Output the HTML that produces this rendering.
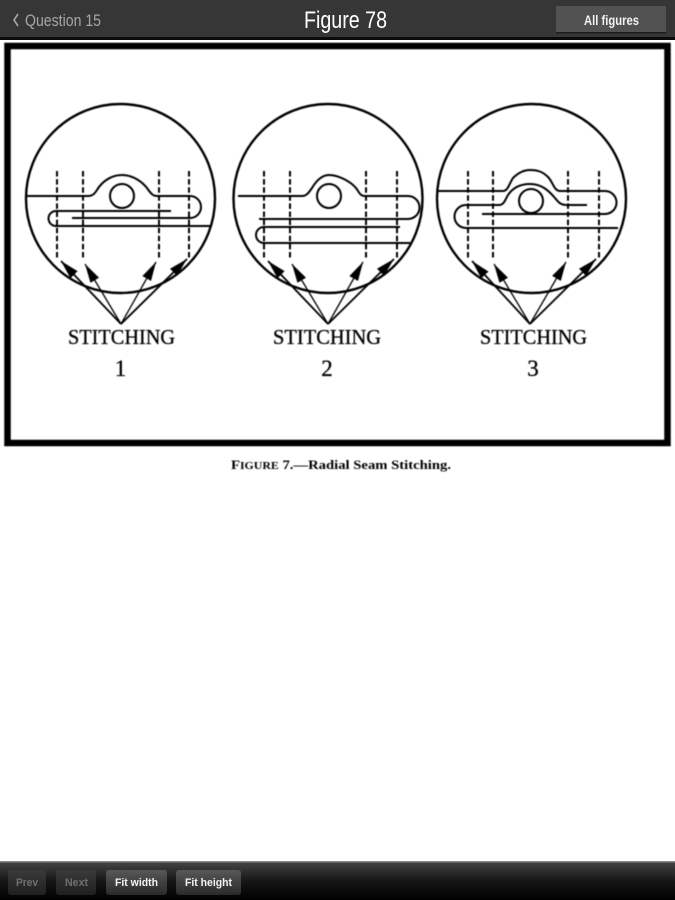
<!DOCTYPE html>
<html>
<head>
<meta charset="utf-8">
<style>
html,body{margin:0;padding:0;background:#fff;width:675px;height:900px;overflow:hidden}
svg{display:block}
.d{filter:url(#b)}
.l{fill:none;stroke:#000;stroke-width:2}
.c{fill:none;stroke:#000;stroke-width:2.4}
.dash{stroke:#000;stroke-width:2;stroke-dasharray:5.5 2.6;fill:none}
.a{stroke:#000;stroke-width:1.3;marker-end:url(#ah)}
.o{stroke:#000;stroke-width:1.8;marker-end:url(#ah)}
.t{font-family:"Liberation Serif",serif;fill:#000;stroke:#000;stroke-width:.3}
.s{font-family:"Liberation Sans",sans-serif}
</style>
</head>
<body>
<svg width="675" height="900" viewBox="0 0 675 900" xmlns="http://www.w3.org/2000/svg">
<defs>
<filter id="b" x="-5%" y="-5%" width="110%" height="110%"><feGaussianBlur stdDeviation="0.45"/></filter>
<filter id="b2" x="-5%" y="-20%" width="110%" height="140%"><feGaussianBlur stdDeviation="0.35"/></filter>
<marker id="ah" markerUnits="userSpaceOnUse" markerWidth="20" markerHeight="12" refX="19" refY="5.5" orient="auto">
<path d="M0 0.5 L19 5.5 L0 10.5 Z" fill="#000"/>
</marker>
<linearGradient id="bar" x1="0" y1="0" x2="0" y2="1"><stop offset="0" stop-color="#444"/><stop offset=".5" stop-color="#161616"/><stop offset="1" stop-color="#000"/></linearGradient>
<linearGradient id="btn" x1="0" y1="0" x2="0" y2="1"><stop offset="0" stop-color="#585858"/><stop offset="1" stop-color="#2a2a2a"/></linearGradient>
<linearGradient id="btnd" x1="0" y1="0" x2="0" y2="1"><stop offset="0" stop-color="#3a3a3a"/><stop offset="1" stop-color="#202020"/></linearGradient>
</defs>

<!-- Top bar -->
<rect x="0" y="0" width="675" height="38" fill="#363636"/>
<rect x="0" y="37" width="675" height="3" fill="#0a0a0a"/>
<path d="M18 14 L14 20 L18 26" fill="none" stroke="#a8a8a8" stroke-width="1.6"/>
<text class="s" x="25" y="26" font-size="17" fill="#a6a6a6" textLength="76" lengthAdjust="spacingAndGlyphs">Question 15</text>
<text class="s" x="304" y="28" font-size="24" fill="#fff" textLength="83" lengthAdjust="spacingAndGlyphs">Figure 78</text>
<rect x="556" y="6" width="110" height="26.5" rx="1" fill="#525252"/>
<rect x="556" y="32" width="110" height="1.5" fill="#1c1c1c"/>
<text class="s" x="584" y="25" font-size="14" font-weight="bold" fill="#f2f2f2" textLength="55" lengthAdjust="spacingAndGlyphs">All figures</text>

<g class="d">
<!-- Frame -->
<rect x="7.5" y="46" width="660" height="397" fill="none" stroke="#000" stroke-width="6.5"/>

<!-- Figure 1 -->
<circle class="c" cx="120.5" cy="198.5" r="94.5"/>
<path class="l" d="M26 196 H88 C93 196 95 193 97 190 C101 183 110 175 122 175 C134 175 143 183 147 188 C150 192 152 196 157 196 H190 A11 11 0 0 1 190 218 H72"/>
<path class="l" d="M171 211 H56 A7.5 7.5 0 0 0 56 226 H210"/>
<circle class="l" cx="122" cy="196" r="12"/>
<path class="dash" d="M57 171 V258 M83 171 V258 M159 171 V258 M189 171 V258"/>
<line class="o" x1="121" y1="324" x2="61" y2="261"/>
<line class="a" x1="121" y1="324" x2="85" y2="264"/>
<line class="a" x1="121" y1="324" x2="156" y2="262"/>
<line class="o" x1="121" y1="324" x2="187" y2="259"/>
<text class="t" x="68" y="344" font-size="21" textLength="107" lengthAdjust="spacingAndGlyphs">STITCHING</text>
<text class="t" x="120.5" y="376" font-size="23" text-anchor="middle">1</text>

<!-- Figure 2 -->
<circle class="c" cx="328" cy="198.5" r="94.5"/>
<path class="l" d="M238 196 H302 C307 196 309 192 312 188 C316 181 322 175 329 175 C338 175 350 181 356 188 C359 192 360 196 365 196 H408 A11.5 11.5 0 0 1 408 219 H259"/>
<path class="l" d="M400 227 H264 A8 8 0 0 0 264 243 H410"/>
<circle class="l" cx="329" cy="196" r="12"/>
<path class="dash" d="M264 171 V258 M290 171 V258 M366 171 V258 M397 171 V258"/>
<line class="o" x1="328" y1="324" x2="268" y2="261"/>
<line class="a" x1="328" y1="324" x2="292" y2="264"/>
<line class="a" x1="328" y1="324" x2="363" y2="262"/>
<line class="o" x1="328" y1="324" x2="394" y2="259"/>
<text class="t" x="273" y="344" font-size="21" textLength="108" lengthAdjust="spacingAndGlyphs">STITCHING</text>
<text class="t" x="327" y="376" font-size="23" text-anchor="middle">2</text>

<!-- Figure 3 -->
<circle class="c" cx="531.5" cy="198.5" r="94.5"/>
<path class="l" d="M438 191 H503 C508 191 509 184 513 178 C518 173 523 170 530 170 C538 170 543 172 548 177 C553 182 554 191 560 191 H605 A11.5 11.5 0 0 1 605 214 H482"/>
<path class="l" d="M587 205 H567 C561 205 559 203 555 198 C549 191 542 184 530 184 C519 184 512 189 508 195 C505 200 504 205 499 205 H466 A11.5 11.5 0 0 0 466 228 H618"/>
<circle class="l" cx="531" cy="201" r="12"/>
<path class="dash" d="M468 171 V258 M493 171 V258 M568 171 V258 M599 171 V258"/>
<line class="o" x1="530" y1="324" x2="472" y2="261"/>
<line class="a" x1="530" y1="324" x2="494" y2="264"/>
<line class="a" x1="530" y1="324" x2="566" y2="262"/>
<line class="o" x1="530" y1="324" x2="596" y2="259"/>
<text class="t" x="480" y="344" font-size="21" textLength="107" lengthAdjust="spacingAndGlyphs">STITCHING</text>
<text class="t" x="533" y="376" font-size="23" text-anchor="middle">3</text>

<!-- Caption -->
<text class="t" style="stroke:none" x="231" y="469" font-size="13" font-weight="bold" textLength="220" lengthAdjust="spacingAndGlyphs">F<tspan font-size="10.5">IGURE</tspan> 7.—Radial Seam Stitching.</text>
</g>

<!-- Bottom bar -->
<rect x="0" y="862" width="675" height="38" fill="url(#bar)"/>
<rect x="0" y="861" width="675" height="1.5" fill="#8a8a8a"/>
<g filter="url(#b2)">
<rect x="8" y="870" width="38" height="25" rx="3" fill="url(#btnd)"/>
<rect x="56" y="870" width="40" height="25" rx="3" fill="url(#btnd)"/>
<rect x="106" y="870" width="61" height="25" rx="3" fill="url(#btn)"/>
<rect x="176" y="870" width="65" height="25" rx="3" fill="url(#btn)"/>
<text class="s" x="16" y="886" font-size="11" font-weight="bold" fill="#707070" textLength="22" lengthAdjust="spacingAndGlyphs">Prev</text>
<text class="s" x="65" y="886" font-size="11" font-weight="bold" fill="#707070" textLength="23" lengthAdjust="spacingAndGlyphs">Next</text>
<text class="s" x="115" y="886" font-size="11" font-weight="bold" fill="#f2f2f2" textLength="43" lengthAdjust="spacingAndGlyphs">Fit width</text>
<text class="s" x="185" y="886" font-size="11" font-weight="bold" fill="#f2f2f2" textLength="47" lengthAdjust="spacingAndGlyphs">Fit height</text>
</g>
</svg>
</body>
</html>
